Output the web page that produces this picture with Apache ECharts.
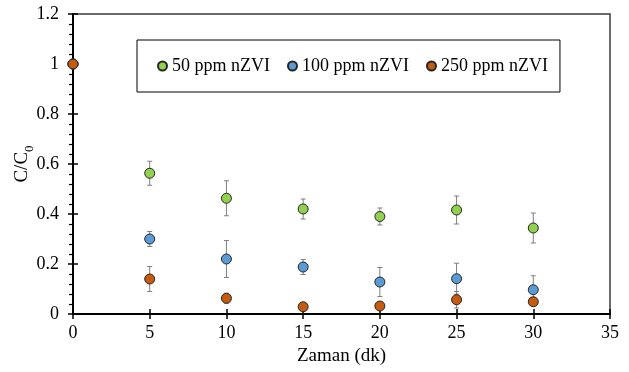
<!DOCTYPE html>
<html>
<head>
<meta charset="utf-8">
<script src="https://cdn.jsdelivr.net/npm/echarts@6/dist/echarts.min.js"></script>
<style>
  html, body { margin: 0; padding: 0; background: #fff; }
  #main { width: 629px; height: 372px; }
</style>
</head>
<body>
<div id="main"></div>
<script>
// time points (dk)
const times = [0, 5, 10, 15, 20, 25, 30];

// C/C0 values
const ppm50 = [1, 0.563, 0.463, 0.42, 0.39, 0.416, 0.344];
const ppm50Err = [0, 0.048, 0.07, 0.04, 0.034, 0.056, 0.06];

const ppm100 = [1, 0.3, 0.22, 0.188, 0.128, 0.141, 0.097];
const ppm100Err = [0, 0.03, 0.074, 0.03, 0.058, 0.062, 0.056];

const ppm250 = [1, 0.14, 0.063, 0.029, 0.032, 0.057, 0.049];
const ppm250Err = [0, 0.05, 0.02, 0.008, 0.01, 0.033, 0.012];

const seriesNames = ['50 ppm nZVI', '100 ppm nZVI', '250 ppm nZVI'];
const seriesColors = ['#92D050', '#5B9BD5', '#C55A11'];

const yTicks = ['0', '0.2', '0.4', '0.6', '0.8', '1', '1.2'];

const font = 'Liberation Serif, Times New Roman, serif';

function pairs(vals) {
  return times.map((t, i) => [t, vals[i]]);
}
function errRows(vals, errs) {
  return times.map((t, i) => [t, vals[i], errs[i]]);
}

// error bars drawn through the axis scales
function errorBar(params, api) {
  const x = api.value(0);
  const y = api.value(1);
  const e = api.value(2);
  if (!e) return null;
  const top = api.coord([x, y + e]);
  const bot = api.coord([x, y - e]);
  const cap = 2.5;
  const style = { stroke: '#7f7f7f', lineWidth: 1 };
  return {
    type: 'group',
    children: [
      { type: 'line', shape: { x1: top[0], y1: top[1], x2: bot[0], y2: bot[1] }, style },
      { type: 'line', shape: { x1: top[0] - cap, y1: top[1], x2: top[0] + cap, y2: top[1] }, style },
      { type: 'line', shape: { x1: bot[0] - cap, y1: bot[1], x2: bot[0] + cap, y2: bot[1] }, style }
    ]
  };
}

const chart = echarts.init(document.getElementById('main'));

const values = [ppm50, ppm100, ppm250];
const errs = [ppm50Err, ppm100Err, ppm250Err];

const series = [];
values.forEach((v, k) => {
  series.push({
    type: 'custom',
    renderItem: errorBar,
    data: errRows(v, errs[k]),
    encode: { x: 0, y: 1 },
    z: 1,
    silent: true
  });
});
values.forEach((v, k) => {
  series.push({
    name: seriesNames[k],
    type: 'scatter',
    symbol: 'circle',
    symbolSize: 10,
    itemStyle: { color: seriesColors[k], borderColor: '#262626', borderWidth: 1, opacity: 1 },
    data: pairs(v),
    z: 3 + k
  });
});

const option = {
  animation: false,
  backgroundColor: '#fff',
  textStyle: { fontFamily: font },
  grid: {
    left: 73, right: 19, top: 14, bottom: 58,
    show: true, borderColor: '#3a3a3a', borderWidth: 1.5,
    containLabel: false,
    outerBoundsMode: 'none'
  },
  legend: {
    data: seriesNames,
    left: 137, top: 40,
    padding: [17, 12, 17, 20],
    itemGap: 17,
    itemWidth: 9, itemHeight: 9,
    icon: 'circle',
    borderColor: '#000', borderWidth: 1,
    textStyle: { fontFamily: font, fontSize: 18, color: '#000' }
  },
  xAxis: [
    {
      type: 'value', min: 0, max: 35, interval: 5,
      position: 'bottom',
      name: 'Zaman (dk)', nameLocation: 'middle', nameGap: 33,
      nameMoveOverlap: false,
      nameTextStyle: { fontFamily: font, fontSize: 19, color: '#000' },
      axisLine: { lineStyle: { color: '#000', width: 2 } },
      axisTick: { inside: false, length: 5, lineStyle: { color: '#000', width: 1.5 } },
      axisLabel: { fontFamily: font, fontSize: 18, color: '#000', margin: 10 },
      splitLine: { show: false }
    },
    {
      type: 'value', min: 0, max: 35, interval: 5,
      position: 'bottom',
      axisLine: { show: false },
      axisTick: { inside: true, length: 5, lineStyle: { color: '#000', width: 1.5 } },
      axisLabel: { show: false },
      splitLine: { show: false }
    }
  ],
  yAxis: [
    {
      type: 'value', min: 0, max: 1.2, interval: 0.2,
      position: 'left',
      name: 'C/C{sub|0}', nameLocation: 'middle', nameGap: 37,
      nameMoveOverlap: false,
      nameTextStyle: {
        fontFamily: font, fontSize: 19, color: '#000', lineHeight: 28,
        rich: { sub: { fontFamily: font, fontSize: 13, lineHeight: 12, verticalAlign: 'bottom', color: '#000' } }
      },
      axisLine: { lineStyle: { color: '#000', width: 2 } },
      axisTick: { inside: false, length: 5, lineStyle: { color: '#000', width: 1.5 } },
      minorTick: { show: true, splitNumber: 5, length: 4, lineStyle: { color: '#000', width: 1.2 } },
      axisLabel: {
        fontFamily: font, fontSize: 18, color: '#000', margin: 14,
        formatter: (val) => yTicks[Math.round(val / 0.2)]
      },
      splitLine: { show: false },
      minorSplitLine: { show: false }
    },
    {
      type: 'value', min: 0, max: 1.2, interval: 0.2,
      position: 'left',
      axisLine: { show: false },
      axisTick: { inside: true, length: 5, lineStyle: { color: '#000', width: 1.5 } },
      axisLabel: { show: false },
      splitLine: { show: false }
    }
  ],
  series: series
};

chart.setOption(option);
</script>
</body>
</html>
